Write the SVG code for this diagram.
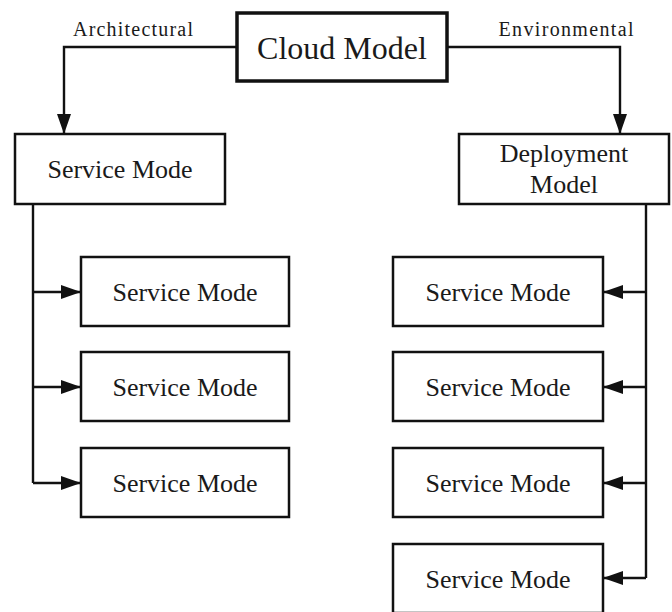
<svg xmlns="http://www.w3.org/2000/svg" width="672" height="612" viewBox="0 0 672 612">
  <style>
    .box { fill: #ffffff; stroke: #111111; stroke-width: 2.5; }
    .root { fill: #ffffff; stroke: #111111; stroke-width: 3.5; }
    text { font-family: 'Liberation Serif', 'DejaVu Serif', 'Times New Roman', serif; fill: #1a1a1a; text-anchor: middle; }
    .lbl { font-size: 26px; }
    .big { font-size: 32px; }
    .edge-lbl { font-size: 20px; }
    .wire { fill: none; stroke: #111111; stroke-width: 2.4; }
  </style>
  <defs>
    <marker id="arrow" viewBox="0 0 20 14" refX="20" refY="7" markerWidth="20" markerHeight="14" markerUnits="userSpaceOnUse" orient="auto">
      <path d="M0,0 L20,7 L0,14 Z" fill="#111111"/>
    </marker>
  </defs>

  <rect width="672" height="612" fill="#ffffff"/>

  <!-- connectors -->
  <g id="connectors">
    <path class="wire" d="M237,47 H64 V134" marker-end="url(#arrow)"/>
    <path class="wire" d="M447,47 H620 V134" marker-end="url(#arrow)"/>
    <text class="edge-lbl" x="133" y="36" textLength="120" lengthAdjust="spacing" font-family="Liberation Serif, serif">Architectural</text>
    <text class="edge-lbl" x="566" y="36" textLength="135" lengthAdjust="spacing" font-family="Liberation Serif, serif">Environmental</text>

    <path class="wire" d="M33,204 V483"/>
    <path class="wire" d="M33,292 H81" marker-end="url(#arrow)"/>
    <path class="wire" d="M33,387 H81" marker-end="url(#arrow)"/>
    <path class="wire" d="M33,483 H81" marker-end="url(#arrow)"/>

    <path class="wire" d="M646,204 V578"/>
    <path class="wire" d="M646,292 H603" marker-end="url(#arrow)"/>
    <path class="wire" d="M646,387 H603" marker-end="url(#arrow)"/>
    <path class="wire" d="M646,483 H603" marker-end="url(#arrow)"/>
    <path class="wire" d="M646,578 H603" marker-end="url(#arrow)"/>
  </g>

  <!-- root -->
  <g id="cloud-model">
    <rect class="root" x="237" y="13" width="210" height="68"/>
    <text class="lbl big" x="342" y="59" font-family="Liberation Serif, serif">Cloud Model</text>
  </g>

  <!-- left branch -->
  <g id="service-mode">
    <rect class="box" x="15" y="134" width="210" height="70"/>
    <text class="lbl" x="120" y="178" font-family="Liberation Serif, serif">Service Mode</text>
  </g>
  <g id="left-1">
    <rect class="box" x="81" y="257" width="208" height="69"/>
    <text class="lbl" x="185" y="301" font-family="Liberation Serif, serif">Service Mode</text>
  </g>
  <g id="left-2">
    <rect class="box" x="81" y="352" width="208" height="69"/>
    <text class="lbl" x="185" y="396" font-family="Liberation Serif, serif">Service Mode</text>
  </g>
  <g id="left-3">
    <rect class="box" x="81" y="448" width="208" height="69"/>
    <text class="lbl" x="185" y="492" font-family="Liberation Serif, serif">Service Mode</text>
  </g>

  <!-- right branch -->
  <g id="deployment-model">
    <rect class="box" x="459" y="134" width="210" height="70"/>
    <text class="lbl" x="564" y="162" font-family="Liberation Serif, serif">Deployment</text>
    <text class="lbl" x="564" y="193" font-family="Liberation Serif, serif">Model</text>
  </g>
  <g id="right-1">
    <rect class="box" x="393" y="257" width="210" height="69"/>
    <text class="lbl" x="498" y="301" font-family="Liberation Serif, serif">Service Mode</text>
  </g>
  <g id="right-2">
    <rect class="box" x="393" y="352" width="210" height="69"/>
    <text class="lbl" x="498" y="396" font-family="Liberation Serif, serif">Service Mode</text>
  </g>
  <g id="right-3">
    <rect class="box" x="393" y="448" width="210" height="69"/>
    <text class="lbl" x="498" y="492" font-family="Liberation Serif, serif">Service Mode</text>
  </g>
  <g id="right-4">
    <rect class="box" x="393" y="544" width="210" height="69"/>
    <text class="lbl" x="498" y="588" font-family="Liberation Serif, serif">Service Mode</text>
  </g>
</svg>
